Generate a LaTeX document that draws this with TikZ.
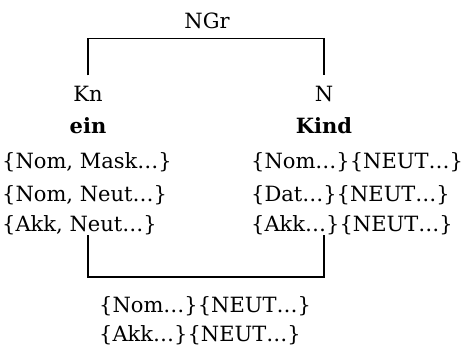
\documentclass[tikz,border=0pt]{standalone}
\usepackage{fontspec}
\setmainfont{DejaVu Serif}
\usetikzlibrary{positioning}
\tikzset{
  cat/.style={anchor=base,inner xsep=0pt,inner ysep=10pt,font=\fontsize{21}{25}\selectfont},
  word/.style={anchor=base,inner sep=0pt,font=\fontsize{21}{25}\selectfont\bfseries},
  feat/.style={anchor=base west,inner sep=0pt,font=\fontsize{21}{25}\selectfont},
  bar/.style={line width=1.7pt},
}

\begin{document}
\begin{tikzpicture}[x=1pt,y=-1pt]
  \useasboundingbox (0,0) rectangle (462,349);

  % categories and words
  \node[cat]  (ngr)  at (207,28)  {NGr};
  \node[cat]  (kn)   at (88,101)  {Kn};
  \node[cat]  (n)    at (324,101) {N};
  \node[word] (ein)  at (88,133)  {ein};
  \node[word] (kind) at (324,133) {Kind};

  % features of ein
  \node[feat] (lnom)  at (2,168)   {\{Nom, Mask…\}};
  \node[feat] (lneut) at (2,201.5) {\{Nom, Neut…\}};
  \node[feat] (lakk)  at (2,231.5) {\{Akk, Neut…\}};

  % features of Kind
  \node[feat] (rnom) at (251,168)   {\{Nom…\}\{NEUT…\}};
  \node[feat] (rdat) at (251,201.5) {\{Dat…\}\{NEUT…\}};
  \node[feat] (rakk) at (251,231.5) {\{Akk…\}\{NEUT…\}};

  % unified result
  \node[feat] (resnom) at (99,312.5) {\{Nom…\}\{NEUT…\}};
  \node[feat] (resakk) at (99,341.5) {\{Akk…\}\{NEUT…\}};

  \coordinate (merge) at (207,277);

  \draw[bar] (kn.north) |- (ngr.south) -| (n.north);
  \draw[bar] (kn |- lakk.south) |- (merge) -| (n |- rakk.south);
\end{tikzpicture}
\end{document}
